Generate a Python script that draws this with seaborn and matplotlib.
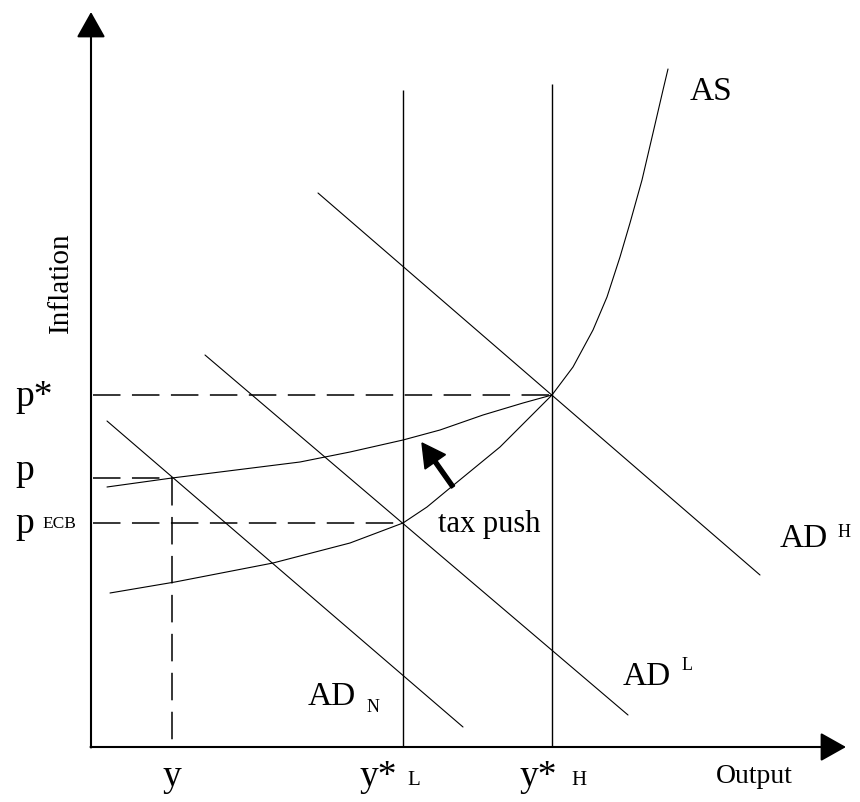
import numpy as np
import pandas as pd
import matplotlib
matplotlib.use("Agg")
import matplotlib.pyplot as plt
import seaborn as sns

# -----------------------------
# data (output on x, inflation on y)

# AS curve (lower one, through y*L and y*H, steep at the top)
as_x = [1.9, 8.4, 18.2, 25.9, 31.2, 33.6, 35.9, 40.9, 43.9, 46.1,
        48.2, 50.2, 51.6, 52.9, 53.9, 55.1, 56.2, 57.2, 57.7]
as_y = [15.4, 16.5, 18.4, 20.4, 22.4, 24.0, 25.9, 30.0, 33.0, 35.2,
        38.0, 41.7, 45.0, 49.0, 52.4, 56.7, 61.4, 65.7, 67.8]

# AS after the tax push (upper, flatter curve)
as_tax_x = [1.6, 8.1, 20.9, 25.9, 31.2, 34.9, 39.2, 43.2, 46.1]
as_tax_y = [26.0, 26.9, 28.5, 29.5, 30.7, 31.7, 33.2, 34.4, 35.2]

# AD lines (start / end)
ad_names = ["AD_N", "AD_L", "AD_H"]
ad_x0 = [1.6, 11.4, 22.7]
ad_y0 = [32.6, 39.2, 55.4]
ad_x1 = [37.2, 53.7, 66.9]
ad_y1 = [2.0, 3.2, 17.2]

# potential output lines
y_star_L = 31.2
y_star_H = 46.1
y_star_L_top = 65.7
y_star_H_top = 66.3

# guide levels
y_level = 8.1
p_star = 35.2
p_level = 26.9
p_ecb = 22.4

x_axis_end = 75.5
y_axis_end = 73.5

# tax push arrow (tail -> tip)
push_tail = (36.2, 26.0)
push_tip = (33.1, 30.4)

# -----------------------------

sns.set_theme(style="white")
plt.rcParams['font.family'] = ['Liberation Serif', 'DejaVu Serif']
plt.rcParams['text.color'] = 'black'

fig = plt.figure(figsize=(8.6, 8.02), dpi=100)
ax = fig.add_axes([0, 0, 1, 1])
ax.set_xlim(-9.1, 76.9)
ax.set_ylim(-5.5, 74.7)
ax.axis('off')

curve_kw = dict(color='black', linewidth=0.8, estimator=None, sort=False, legend=False, ax=ax)

df_as = pd.DataFrame({'output': as_x, 'inflation': as_y})
sns.lineplot(data=df_as, x='output', y='inflation', **curve_kw)

df_tax = pd.DataFrame({'output': as_tax_x, 'inflation': as_tax_y})
sns.lineplot(data=df_tax, x='output', y='inflation', **curve_kw)

df_ad = pd.DataFrame({
    'curve': ad_names * 2,
    'output': ad_x0 + ad_x1,
    'inflation': ad_y0 + ad_y1,
})
for name in ad_names:
    sns.lineplot(data=df_ad[df_ad['curve'] == name], x='output', y='inflation', **curve_kw)

# vertical potential output lines
ax.vlines([y_star_L, y_star_H], 0, [y_star_L_top, y_star_H_top], color='black', linewidth=1.0)

# dashed guides
dash = dict(color='black', linewidth=1.1, dashes=(18, 7.5))
ax.plot([0.2, y_star_H], [p_star, p_star], **dash)
ax.plot([0.2, y_level], [p_level, p_level], **dash)
ax.plot([0.2, y_star_L], [p_ecb, p_ecb], **dash)
ax.plot([y_level, y_level], [p_level, 0], **dash)

# axes with arrow heads
arrow_kw = dict(arrowstyle='-|>,head_length=0.8,head_width=0.45', color='black',
                lw=1.5, shrinkA=0, shrinkB=0, mutation_scale=20)
ax.annotate('', xy=(x_axis_end, 0), xytext=(-0.05, 0), arrowprops=arrow_kw)
ax.annotate('', xy=(0, y_axis_end), xytext=(0, -0.05), arrowprops=arrow_kw)

# tax push arrow
ax.arrow(push_tail[0], push_tail[1], push_tip[0] - push_tail[0], push_tip[1] - push_tail[1],
         width=0.4, head_width=2.5, head_length=2.3, length_includes_head=True,
         color='black')

# labels
big = 27
ax.text(-7.6, 34.1, 'p*', fontsize=big, va='baseline')
ax.text(-7.6, 26.7, 'p', fontsize=big, va='baseline')
ax.text(-7.6, 21.4, 'p', fontsize=big, va='baseline')
ax.text(-4.9, 21.9, 'ECB', fontsize=12.5, va='baseline')

ax.text(y_level, -3.9, 'y', fontsize=big, va='baseline', ha='center')
ax.text(26.9, -3.9, 'y*', fontsize=big, va='baseline')
ax.text(31.6, -3.8, 'L', fontsize=15, va='baseline')
ax.text(42.8, -3.9, 'y*', fontsize=big, va='baseline')
ax.text(48.0, -3.8, 'H', fontsize=15, va='baseline')
ax.text(62.5, -3.6, 'Output', fontsize=20, va='baseline')

ax.text(-3.0, 46.4, 'Inflation', fontsize=21, rotation=90, ha='center', va='center')

ax.text(59.9, 64.7, 'AS', fontsize=24, va='baseline')
ax.text(68.9, 20.0, 'AD', fontsize=24, va='baseline')
ax.text(74.7, 21.0, 'H', fontsize=13, va='baseline')
ax.text(53.2, 6.2, 'AD', fontsize=24, va='baseline')
ax.text(59.1, 7.7, 'L', fontsize=13, va='baseline')
ax.text(21.7, 4.2, 'AD', fontsize=24, va='baseline')
ax.text(27.6, 3.5, 'N', fontsize=13, va='baseline')

ax.text(34.7, 21.5, 'tax push', fontsize=22, va='baseline')

fig.savefig('out.png', dpi=100)
